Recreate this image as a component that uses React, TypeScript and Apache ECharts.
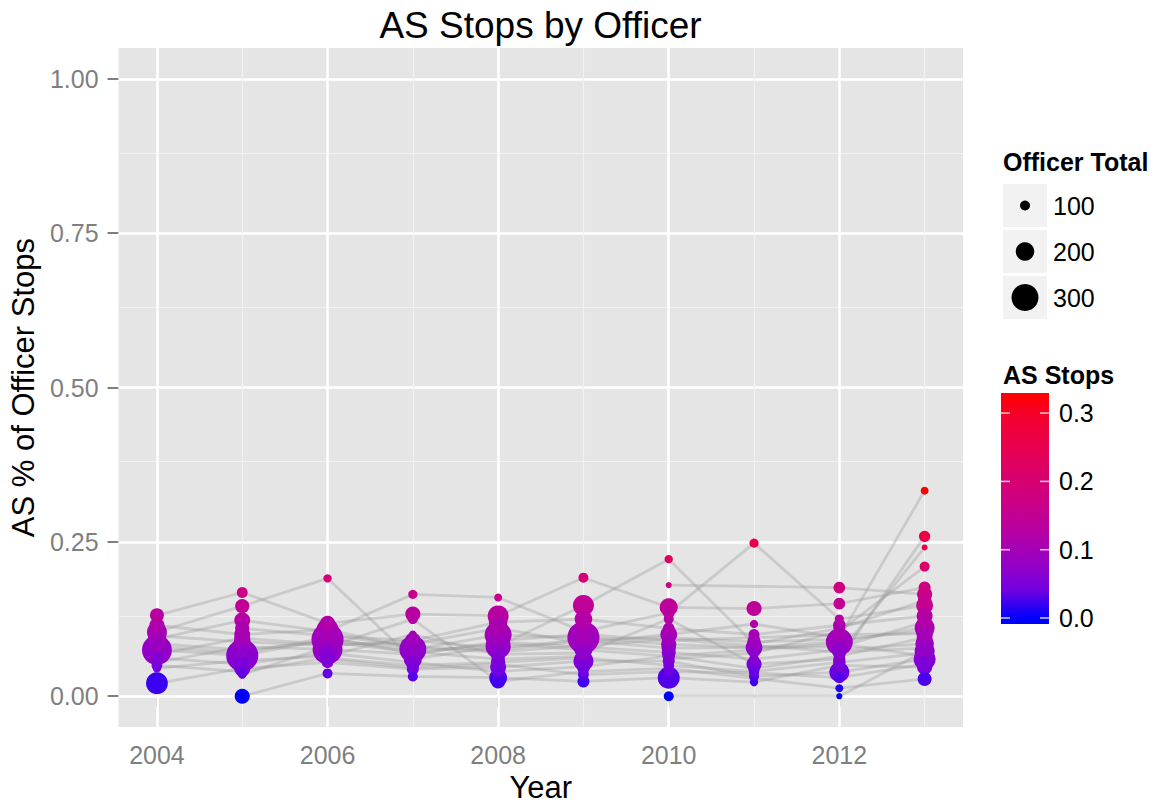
import React, { useEffect, useRef } from "react";
import * as echarts from "echarts";

const FONT = "'Liberation Sans', Arial, Helvetica, sans-serif";

const YEARS = [2004, 2005, 2006, 2007, 2008, 2009, 2010, 2011, 2012, 2013];
const MAJOR_X = [2004, 2006, 2008, 2010, 2012];
const MINOR_X = [2005, 2007, 2009, 2011, 2013];
const MAJOR_Y = [0, 0.25, 0.5, 0.75, 1];
const MINOR_Y = [0.125, 0.375, 0.625, 0.875];
const SIZE_BREAKS = [100, 200, 300];
const COLOR_BREAKS = [0, 0.1, 0.2, 0.3];
const COLOR_MAX = 0.333;
const COLOR_STOPS = [
  "#0000FF", "#7300E0", "#9A00C2", "#B500A5", "#CA0088",
  "#DA006C", "#E8004F", "#F40031", "#FF0000",
];

// AS share of each officer's stops per year (null = no record that year)
const O1_RATIO = [0.131, 0.168, 0.118, 0.133, 0.130, 0.192, 0.144, 0.142, 0.150, 0.176];
const O1_TOTAL = [147, 110, 160, 160, 230, 100, 194, 160, 120, 124];
const O2_RATIO = [0.104, 0.146, 0.191, 0.060, 0.081, 0.147, 0.222, 0.085, 0.110, 0.155];
const O2_TOTAL = [218, 150, 80, 194, 280, 230, 80, 120, 120, 140];
const O3_RATIO = [0.093, 0.123, 0.105, 0.165, 0.160, 0.105, 0.135, 0.248, 0.125, 0.147];
const O3_TOTAL = [200, 170, 250, 90, 76, 200, 120, 90, 90, 180];
const O4_RATIO = [0.075, 0.066, 0.092, 0.076, 0.099, 0.095, 0.084, 0.079, 0.088, 0.111];
const O4_TOTAL = [335, 360, 360, 300, 300, 360, 160, 180, 300, 218];
const O5_RATIO = [0.068, 0.094, 0.084, 0.085, 0.110, 0.086, 0.100, 0.117, 0.095, 0.333];
const O5_TOTAL = [180, 170, 300, 150, 180, 250, 180, 80, 200, 76];
const O6_RATIO = [0.055, 0.080, 0.076, 0.068, 0.088, 0.080, 0.071, 0.060, 0.075, 0.085];
const O6_TOTAL = [100, 200, 335, 200, 200, 218, 147, 100, 160, 200];
const O7_RATIO = [0.045, 0.058, 0.065, 0.100, 0.068, 0.070, 0.125, 0.052, 0.060, 0.259];
const O7_TOTAL = [80, 200, 170, 76, 150, 150, 100, 160, 124, 115];
const O8_RATIO = [0.021, 0.045, 0.055, 0.044, 0.047, 0.057, 0.057, 0.032, 0.039, 0.060];
const O8_TOTAL = [240, 170, 120, 124, 170, 218, 124, 100, 218, 241];
const O9_RATIO = [null, 0.000, 0.037, 0.032, 0.030, 0.024, 0.030, 0.023, 0.050, 0.047];
const O9_TOTAL = [null, 160, 100, 100, 194, 124, 241, 80, 120, 160];
const O10_RATIO = [null, 0.035, null, 0.125, 0.024, 0.040, 0.045, null, 0.013, 0.028];
const O10_TOTAL = [null, 80, null, 100, 150, 100, 100, null, 76, 147];
const O11_RATIO = [null, null, null, null, null, null, 0.180, null, 0.176, 0.165];
const O11_TOTAL = [null, null, null, null, null, null, 55, null, 120, 160];
const O12_RATIO = [null, null, null, null, null, null, 0.000, null, 0.000, 0.073];
const O12_TOTAL = [null, null, null, null, null, null, 100, null, 55, 218];
const O13_RATIO = [null, null, null, null, 0.090, 0.100, 0.090, 0.095, 0.100, 0.101];
const O13_TOTAL = [null, null, null, null, 120, 150, 130, 110, 140, 147];
const O14_RATIO = [null, null, 0.100, 0.080, 0.075, 0.090, 0.078, null, 0.080, 0.120];
const O14_TOTAL = [null, null, 200, 180, 160, 170, 150, null, 170, 150];
const O15_RATIO = [null, null, null, null, null, null, 0.060, 0.070, 0.105, 0.210];
const O15_TOTAL = [null, null, null, null, null, null, 90, 100, 100, 100];
const O16_RATIO = [null, null, null, null, null, null, null, null, 0.070, 0.241];
const O16_TOTAL = [null, null, null, null, null, null, null, null, 60, 53];
const O17_RATIO = [0.085, 0.075, 0.088, 0.072, 0.060, 0.065, null, null, null, null];
const O17_TOTAL = [160, 180, 220, 160, 140, 160, null, null, null, null];
const O18_RATIO = [0.062, 0.052, 0.070, 0.055, 0.040, 0.048, 0.065, 0.045, 0.065, 0.095];
const O18_TOTAL = [130, 150, 200, 120, 120, 140, 110, 120, 110, 170];
const O19_RATIO = [0.080, 0.070, 0.095, 0.070, 0.085, 0.075, 0.065, 0.075, 0.085, 0.065];
const O19_TOTAL = [170, 160, 250, 180, 200, 190, 130, 150, 190, 180];
const O20_RATIO = [0.098, 0.088, 0.082, 0.090, 0.078, 0.092, 0.095, 0.088, 0.092, 0.105];
const O20_TOTAL = [190, 180, 280, 170, 230, 260, 140, 140, 240, 190];
const O21_RATIO = [0.050, 0.040, 0.062, 0.050, 0.055, 0.062, 0.050, 0.040, 0.055, 0.070];
const O21_TOTAL = [110, 120, 160, 130, 150, 170, 110, 100, 130, 200];
const O22_RATIO = [null, 0.110, 0.098, 0.090, 0.120, 0.125, 0.110, 0.100, 0.115, 0.130];
const O22_TOTAL = [null, 150, 230, 120, 200, 190, 120, 110, 130, 170];
const O23_RATIO = [0.115, 0.100, 0.108, 0.078, 0.072, 0.082, 0.092, null, 0.072, 0.078];
const O23_TOTAL = [160, 170, 240, 150, 160, 180, 120, null, 150, 170];
const O24_RATIO = [null, null, 0.060, 0.046, 0.052, 0.035, 0.040, 0.038, 0.030, 0.052];
const O24_TOTAL = [null, null, 140, 110, 130, 110, 100, 100, 110, 150];

const OFFICERS = [
  { ratio: O1_RATIO, total: O1_TOTAL }, { ratio: O2_RATIO, total: O2_TOTAL },
  { ratio: O3_RATIO, total: O3_TOTAL }, { ratio: O4_RATIO, total: O4_TOTAL },
  { ratio: O5_RATIO, total: O5_TOTAL }, { ratio: O6_RATIO, total: O6_TOTAL },
  { ratio: O7_RATIO, total: O7_TOTAL }, { ratio: O8_RATIO, total: O8_TOTAL },
  { ratio: O9_RATIO, total: O9_TOTAL }, { ratio: O10_RATIO, total: O10_TOTAL },
  { ratio: O11_RATIO, total: O11_TOTAL }, { ratio: O12_RATIO, total: O12_TOTAL },
  { ratio: O13_RATIO, total: O13_TOTAL }, { ratio: O14_RATIO, total: O14_TOTAL },
  { ratio: O15_RATIO, total: O15_TOTAL }, { ratio: O16_RATIO, total: O16_TOTAL },
  { ratio: O17_RATIO, total: O17_TOTAL }, { ratio: O18_RATIO, total: O18_TOTAL },
  { ratio: O19_RATIO, total: O19_TOTAL }, { ratio: O20_RATIO, total: O20_TOTAL },
  { ratio: O21_RATIO, total: O21_TOTAL }, { ratio: O22_RATIO, total: O22_TOTAL },
  { ratio: O23_RATIO, total: O23_TOTAL }, { ratio: O24_RATIO, total: O24_TOTAL },
];

const sizeOf = (t: number) => 1.5 + 0.085 * t;

export default function App() {
  const ref = useRef<HTMLDivElement>(null);

  useEffect(() => {
    document.body.style.margin = "0";
    if (!ref.current) return;
    const chart = echarts.init(ref.current, null, { renderer: "svg" });

    const lineSeries = OFFICERS.map((o) => ({
      type: "line",
      silent: true,
      z: 5,
      symbol: "none",
      lineStyle: { color: "rgba(150,150,150,0.34)", width: 2.8 },
      data: YEARS.map((y, i) => [y, o.ratio[i]]).filter((d) => d[1] !== null),
    }));

    const points: any[] = [];
    OFFICERS.forEach((o) => {
      YEARS.forEach((y, i) => {
        if (o.ratio[i] !== null) points.push([y, o.ratio[i], o.total[i]]);
      });
    });
    points.sort((a, b) => b[2] - a[2]);

    const scatterIndex = 1 + lineSeries.length;

    const gridLines = [
      ...MAJOR_Y.map((v) => ({ yAxis: v, lineStyle: { color: "#FFFFFF", width: 2.5, type: "solid" } })),
      ...MINOR_Y.map((v) => ({ yAxis: v, lineStyle: { color: "#F2F2F2", width: 1.2, type: "solid" } })),
      ...MAJOR_X.map((v) => ({ xAxis: v, lineStyle: { color: "#FFFFFF", width: 2.5, type: "solid" } })),
      ...MINOR_X.map((v) => ({ xAxis: v, lineStyle: { color: "#F2F2F2", width: 1.2, type: "solid" } })),
    ];

    // legend geometry
    const LX = 1003;
    const keyTop = 184;
    const keyH = 43;
    const keyGap = 3;
    const barTop = 393;
    const barBottom = 624;
    const y0 = 618;
    const pxPerUnit = 683;
    const valToY = (v: number) => y0 - v * pxPerUnit;

    const gradStops = COLOR_STOPS.map((c, i) => {
      const v = (i / (COLOR_STOPS.length - 1)) * COLOR_MAX;
      const off = (barBottom - valToY(v)) / (barBottom - barTop);
      return { offset: Math.max(0, Math.min(1, off)), color: c };
    });

    const graphic: any[] = [
      {
        type: "text", x: 540.5, y: 25,
        style: { text: "AS Stops by Officer", fontSize: 37, fill: "#000", align: "center", verticalAlign: "middle", fontFamily: FONT },
      },
      {
        type: "text", x: LX, y: 162,
        style: { text: "Officer Total", fontSize: 25, fontWeight: "bold", fill: "#000", align: "left", verticalAlign: "middle", fontFamily: FONT },
      },
      {
        type: "text", x: LX, y: 375,
        style: { text: "AS Stops", fontSize: 25, fontWeight: "bold", fill: "#000", align: "left", verticalAlign: "middle", fontFamily: FONT },
      },
      {
        type: "rect", shape: { x: 1001, y: barTop, width: 48, height: barBottom - barTop },
        style: { fill: new echarts.graphic.LinearGradient(0, 1, 0, 0, gradStops) },
      },
    ];
    SIZE_BREAKS.forEach((v, i) => {
      const top = keyTop + i * (keyH + keyGap);
      const cy = top + keyH / 2;
      graphic.push({ type: "rect", shape: { x: LX, y: top, width: 44, height: keyH }, style: { fill: "#F2F2F2" } });
      graphic.push({ type: "circle", shape: { cx: LX + 22, cy, r: sizeOf(v) / 2 }, style: { fill: "#000" } });
      graphic.push({
        type: "text", x: 1053, y: cy,
        style: { text: String(v), fontSize: 25, fill: "#000", align: "left", verticalAlign: "middle", fontFamily: FONT },
      });
    });
    COLOR_BREAKS.forEach((v) => {
      const y = valToY(v);
      graphic.push({ type: "line", shape: { x1: 1001, y1: y, x2: 1010, y2: y }, style: { stroke: "rgba(255,255,255,0.8)", lineWidth: 1.5 } });
      graphic.push({ type: "line", shape: { x1: 1040, y1: y, x2: 1049, y2: y }, style: { stroke: "rgba(255,255,255,0.8)", lineWidth: 1.5 } });
      graphic.push({
        type: "text", x: 1059, y,
        style: { text: v.toFixed(1), fontSize: 25, fill: "#000", align: "left", verticalAlign: "middle", fontFamily: FONT },
      });
    });

    chart.setOption({
      animation: false,
      backgroundColor: "#FFFFFF",
      textStyle: { fontFamily: FONT },
      grid: { left: 118, right: 204, top: 48, bottom: 80, show: true, backgroundColor: "#E5E5E5", borderWidth: 0 },
      xAxis: {
        type: "value", min: 2003.55, max: 2013.45,
        axisLine: { show: false },
        splitLine: { show: false },
        axisTick: { show: true, customValues: MAJOR_X, length: 11, lineStyle: { color: "#7F7F7F", width: 2 } },
        axisLabel: { customValues: MAJOR_X, margin: 15, fontSize: 25, color: "#7F7F7F", formatter: (v: number) => String(v) },
        name: "Year", nameLocation: "middle", nameGap: 42,
        nameTextStyle: { fontSize: 31, color: "#000" },
      },
      yAxis: {
        type: "value", min: -0.05, max: 1.05,
        axisLine: { show: false },
        splitLine: { show: false },
        axisTick: { show: true, customValues: MAJOR_Y, length: 11, lineStyle: { color: "#7F7F7F", width: 2 } },
        axisLabel: { customValues: MAJOR_Y, margin: 20, fontSize: 25, color: "#7F7F7F", formatter: (v: number) => v.toFixed(2) },
        name: "AS % of Officer Stops", nameLocation: "middle", nameGap: 70,
        nameTextStyle: { fontSize: 31, color: "#000" },
      },
      visualMap: {
        show: false, type: "continuous", min: 0, max: COLOR_MAX, dimension: 1,
        seriesIndex: scatterIndex, inRange: { color: COLOR_STOPS },
      },
      series: [
        {
          type: "line", data: [], silent: true, z: 1,
          markLine: {
            z: 1, silent: true, symbol: ["none", "none"], label: { show: false },
            lineStyle: { type: "solid" }, emphasis: { disabled: true },
            data: gridLines,
          },
        },
        ...lineSeries,
        {
          type: "scatter", z: 10, silent: true,
          symbolSize: (val: number[]) => sizeOf(val[2]),
          itemStyle: { opacity: 1 },
          data: points,
        },
      ],
      graphic,
    });

    return () => chart.dispose();
  }, []);

  return <div ref={ref} style={{ width: 1167, height: 808 }} />;
}
